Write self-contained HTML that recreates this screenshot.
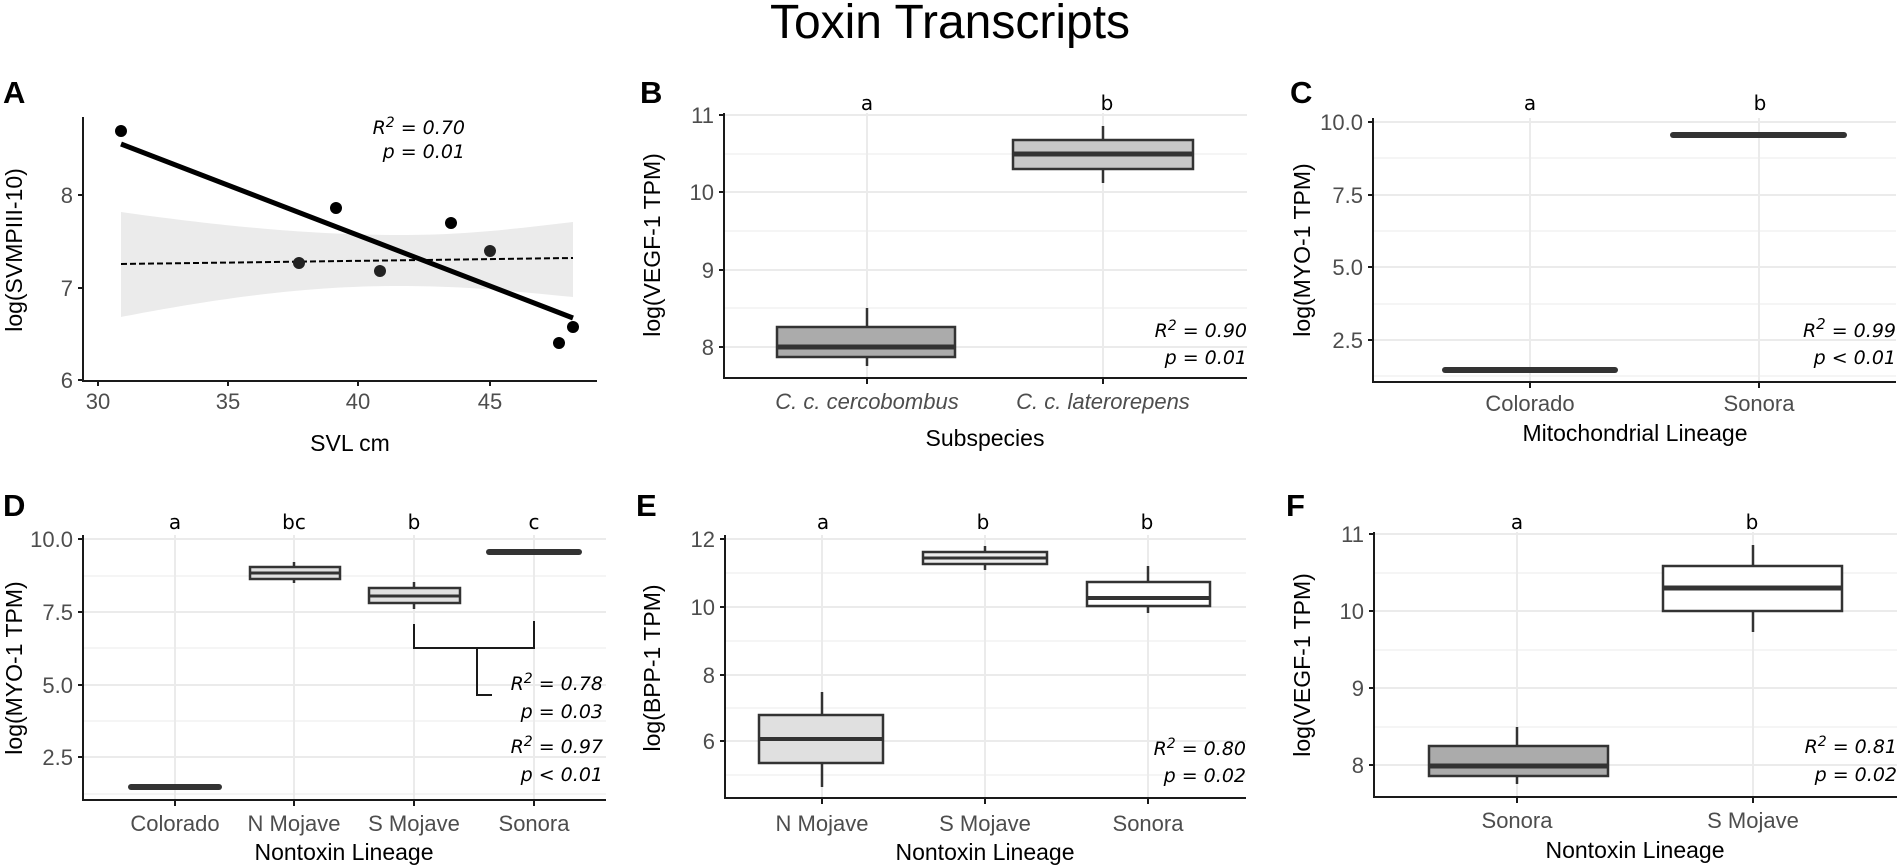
<!DOCTYPE html>
<html><head><meta charset="utf-8"><style>
body{margin:0;background:#fff}
svg{display:block}
.tk{font-family:"Liberation Sans",sans-serif;font-size:22px;fill:#4d4d4d}
.ti{font-family:"Liberation Sans",sans-serif;font-size:23px;fill:#000}
.gl{font-family:"DejaVu Sans",sans-serif;font-size:20px;fill:#000}
.st{font-family:"DejaVu Sans",sans-serif;font-style:italic;font-size:19px;fill:#000}
.pl{font-family:"Liberation Sans",sans-serif;font-weight:bold;font-size:31px;fill:#000}
.mj{stroke:#ebebeb;stroke-width:2}
.mn{stroke:#ebebeb;stroke-width:1}
.ax{stroke:#1a1a1a;stroke-width:2;fill:none}
.bx{stroke:#333;stroke-width:2.5}
</style></head><body>
<svg width="1900" height="868" viewBox="0 0 1900 868" xmlns="http://www.w3.org/2000/svg">
<text x="950" y="38" text-anchor="middle" font-family="Liberation Sans, sans-serif" font-size="48">Toxin Transcripts</text>

<!-- Panel A -->
<text class="pl" x="3" y="103">A</text>
<path d="M121,212 C250,230 330,235 400,235 C470,235 520,228 573,222 L573,297 C520,292 470,286 400,286 C330,286 250,292 121,317 Z" fill="#ebebeb"/>
<line x1="121" y1="264" x2="573" y2="258" stroke="#000" stroke-width="2" stroke-dasharray="6,3"/>
<line x1="121" y1="144" x2="573" y2="318" stroke="#000" stroke-width="5"/>
<g fill="#000"><circle cx="121" cy="131" r="6"/><circle cx="336" cy="208" r="6"/><circle cx="451" cy="223" r="6"/><circle cx="559" cy="343" r="6"/><circle cx="573" cy="327" r="6"/></g>
<g fill="#222"><circle cx="299" cy="263" r="6"/><circle cx="380" cy="271" r="6"/><circle cx="490" cy="251" r="6"/></g>
<path class="ax" d="M83,117 V381 H597"/>
<g stroke="#1a1a1a" stroke-width="2"><line x1="78" y1="195" x2="83" y2="195"/><line x1="78" y1="288" x2="83" y2="288"/><line x1="78" y1="380" x2="83" y2="380"/>
<line x1="98" y1="381" x2="98" y2="386"/><line x1="228" y1="381" x2="228" y2="386"/><line x1="358" y1="381" x2="358" y2="386"/><line x1="490" y1="381" x2="490" y2="386"/></g>
<g class="tk" text-anchor="end"><text x="73" y="203">8</text><text x="73" y="296">7</text><text x="73" y="388">6</text></g>
<g class="tk" text-anchor="middle"><text x="98" y="409">30</text><text x="228" y="409">35</text><text x="358" y="409">40</text><text x="490" y="409">45</text></g>
<text class="ti" text-anchor="middle" x="350" y="451">SVL  cm</text>
<text class="ti" text-anchor="middle" transform="translate(22,250) rotate(-90)">log(SVMPIII-10)</text>
<text class="st" x="465" y="134" text-anchor="end">R<tspan dy="-7" font-size="14">2</tspan><tspan dy="7"> = 0.70</tspan></text>
<text class="st" x="465" y="158" text-anchor="end">p = 0.01</text>

<!-- Panel B -->
<text class="pl" x="640" y="103">B</text>
<g class="mn"><line x1="724" x2="1247" y1="154" y2="154"/><line x1="724" x2="1247" y1="231" y2="231"/><line x1="724" x2="1247" y1="308" y2="308"/></g>
<g class="mj"><line x1="724" x2="1247" y1="115" y2="115"/><line x1="724" x2="1247" y1="192" y2="192"/><line x1="724" x2="1247" y1="270" y2="270"/><line x1="724" x2="1247" y1="347" y2="347"/>
<line x1="867" x2="867" y1="113" y2="378"/><line x1="1103" x2="1103" y1="113" y2="378"/></g>
<g class="bx"><line x1="867" y1="308" x2="867" y2="366"/><rect x="777" y="327" width="178" height="30" fill="#ababab"/><line x1="777" x2="955" y1="347" y2="347" stroke-width="5"/>
<line x1="1103" y1="126" x2="1103" y2="183"/><rect x="1013" y="140" width="180" height="29" fill="#c8c8c8"/><line x1="1013" x2="1193" y1="154" y2="154" stroke-width="5"/></g>
<path class="ax" d="M724,113 V378 H1247"/>
<g stroke="#1a1a1a" stroke-width="2"><line x1="719" x2="724" y1="115" y2="115"/><line x1="719" x2="724" y1="192" y2="192"/><line x1="719" x2="724" y1="270" y2="270"/><line x1="719" x2="724" y1="347" y2="347"/><line x1="867" x2="867" y1="378" y2="384"/><line x1="1103" x2="1103" y1="378" y2="384"/></g>
<g class="tk" text-anchor="end"><text x="714" y="123">11</text><text x="714" y="200">10</text><text x="714" y="278">9</text><text x="714" y="355">8</text></g>
<g class="tk" text-anchor="middle" font-style="italic"><text x="867" y="409">C. c. cercobombus</text><text x="1103" y="409">C. c. laterorepens</text></g>
<text class="ti" text-anchor="middle" x="985" y="446">Subspecies</text>
<text class="ti" text-anchor="middle" transform="translate(660,245) rotate(-90)">log(VEGF-1 TPM)</text>
<g class="gl" text-anchor="middle"><text x="867" y="110">a</text><text x="1107" y="110">b</text></g>
<text class="st" x="1247" y="337" text-anchor="end">R<tspan dy="-7" font-size="14">2</tspan><tspan dy="7"> = 0.90</tspan></text>
<text class="st" x="1247" y="364" text-anchor="end">p = 0.01</text>

<!-- Panel C -->
<text class="pl" x="1290" y="103">C</text>
<g class="mn"><line x1="1373" x2="1896" y1="158" y2="158"/><line x1="1373" x2="1896" y1="231" y2="231"/><line x1="1373" x2="1896" y1="304" y2="304"/><line x1="1373" x2="1896" y1="376" y2="376"/></g>
<g class="mj"><line x1="1373" x2="1896" y1="122" y2="122"/><line x1="1373" x2="1896" y1="195" y2="195"/><line x1="1373" x2="1896" y1="267" y2="267"/><line x1="1373" x2="1896" y1="340" y2="340"/>
<line x1="1530" x2="1530" y1="118" y2="382"/><line x1="1759" x2="1759" y1="118" y2="382"/></g>
<g stroke="#333" stroke-width="6" stroke-linecap="round"><line x1="1445" x2="1615" y1="370" y2="370"/><line x1="1673" x2="1844" y1="135" y2="135"/></g>
<path class="ax" d="M1373,118 V382 H1896"/>
<g stroke="#1a1a1a" stroke-width="2"><line x1="1368" x2="1373" y1="122" y2="122"/><line x1="1368" x2="1373" y1="195" y2="195"/><line x1="1368" x2="1373" y1="267" y2="267"/><line x1="1368" x2="1373" y1="340" y2="340"/><line x1="1530" x2="1530" y1="382" y2="388"/><line x1="1759" x2="1759" y1="382" y2="388"/></g>
<g class="tk" text-anchor="end"><text x="1363" y="130">10.0</text><text x="1363" y="203">7.5</text><text x="1363" y="275">5.0</text><text x="1363" y="348">2.5</text></g>
<g class="tk" text-anchor="middle"><text x="1530" y="411">Colorado</text><text x="1759" y="411">Sonora</text></g>
<text class="ti" text-anchor="middle" x="1635" y="441">Mitochondrial Lineage</text>
<text class="ti" text-anchor="middle" transform="translate(1310,250) rotate(-90)">log(MYO-1 TPM)</text>
<g class="gl" text-anchor="middle"><text x="1530" y="110">a</text><text x="1760" y="110">b</text></g>
<text class="st" x="1896" y="337" text-anchor="end">R<tspan dy="-8" font-size="15">2</tspan><tspan dy="8"> = 0.99</tspan></text>
<text class="st" x="1896" y="364" text-anchor="end">p &lt; 0.01</text>

<!-- Panel D -->
<text class="pl" x="3" y="516">D</text>
<g class="mn"><line x1="83" x2="606" y1="576" y2="576"/><line x1="83" x2="606" y1="648" y2="648"/><line x1="83" x2="606" y1="721" y2="721"/><line x1="83" x2="606" y1="794" y2="794"/></g>
<g class="mj"><line x1="83" x2="606" y1="539" y2="539"/><line x1="83" x2="606" y1="612" y2="612"/><line x1="83" x2="606" y1="685" y2="685"/><line x1="83" x2="606" y1="757" y2="757"/>
<line x1="175" x2="175" y1="535" y2="800"/><line x1="294" x2="294" y1="535" y2="800"/><line x1="414" x2="414" y1="535" y2="800"/><line x1="534" x2="534" y1="535" y2="800"/></g>
<g class="bx"><line x1="294" x2="294" y1="562" y2="583"/><rect x="250" y="567" width="90" height="12" fill="#e0e0e0"/><line x1="250" x2="340" y1="573" y2="573" stroke-width="3"/>
<line x1="414" x2="414" y1="582" y2="609"/><rect x="369" y="588" width="91" height="15" fill="#e0e0e0"/><line x1="369" x2="460" y1="596" y2="596" stroke-width="3"/></g>
<g stroke="#333" stroke-width="6" stroke-linecap="round"><line x1="131" x2="219" y1="787" y2="787"/><line x1="489" x2="579" y1="552" y2="552"/></g>
<path d="M414,624 V648 H534 V621 M477,648 V695 H492" fill="none" stroke="#1a1a1a" stroke-width="2"/>
<path class="ax" d="M83,535 V800 H606"/>
<g stroke="#1a1a1a" stroke-width="2"><line x1="78" x2="83" y1="539" y2="539"/><line x1="78" x2="83" y1="612" y2="612"/><line x1="78" x2="83" y1="685" y2="685"/><line x1="78" x2="83" y1="757" y2="757"/><line x1="175" x2="175" y1="800" y2="806"/><line x1="294" x2="294" y1="800" y2="806"/><line x1="414" x2="414" y1="800" y2="806"/><line x1="534" x2="534" y1="800" y2="806"/></g>
<g class="tk" text-anchor="end"><text x="73" y="547">10.0</text><text x="73" y="620">7.5</text><text x="73" y="693">5.0</text><text x="73" y="765">2.5</text></g>
<g class="tk" text-anchor="middle"><text x="175" y="831">Colorado</text><text x="294" y="831">N Mojave</text><text x="414" y="831">S Mojave</text><text x="534" y="831">Sonora</text></g>
<text class="ti" text-anchor="middle" x="344" y="860">Nontoxin Lineage</text>
<text class="ti" text-anchor="middle" transform="translate(22,668) rotate(-90)">log(MYO-1 TPM)</text>
<g class="gl" text-anchor="middle"><text x="175" y="529">a</text><text x="294" y="529">bc</text><text x="414" y="529">b</text><text x="534" y="529">c</text></g>
<g class="st" text-anchor="end"><text x="603" y="690">R<tspan dy="-7" font-size="14">2</tspan><tspan dy="7"> = 0.78</tspan></text><text x="603" y="718">p = 0.03</text>
<text x="603" y="753">R<tspan dy="-7" font-size="14">2</tspan><tspan dy="7"> = 0.97</tspan></text><text x="603" y="781">p &lt; 0.01</text></g>

<!-- Panel E -->
<text class="pl" x="636" y="516">E</text>
<g class="mn"><line x1="725" x2="1246" y1="573" y2="573"/><line x1="725" x2="1246" y1="641" y2="641"/><line x1="725" x2="1246" y1="708" y2="708"/><line x1="725" x2="1246" y1="775" y2="775"/></g>
<g class="mj"><line x1="725" x2="1246" y1="539" y2="539"/><line x1="725" x2="1246" y1="607" y2="607"/><line x1="725" x2="1246" y1="675" y2="675"/><line x1="725" x2="1246" y1="741" y2="741"/>
<line x1="822" x2="822" y1="535" y2="798"/><line x1="985" x2="985" y1="535" y2="798"/><line x1="1148" x2="1148" y1="535" y2="798"/></g>
<g class="bx"><line x1="822" x2="822" y1="692" y2="787"/><rect x="759" y="715" width="124" height="48" fill="#e0e0e0"/><line x1="759" x2="883" y1="739" y2="739" stroke-width="4"/>
<line x1="985" x2="985" y1="546" y2="570"/><rect x="923" y="552" width="124" height="12" fill="#ececec"/><line x1="923" x2="1047" y1="558" y2="558" stroke-width="3"/>
<line x1="1148" x2="1148" y1="566" y2="613"/><rect x="1087" y="582" width="123" height="24" fill="#fff"/><line x1="1087" x2="1210" y1="598" y2="598" stroke-width="4"/></g>
<path class="ax" d="M725,535 V798 H1246"/>
<g stroke="#1a1a1a" stroke-width="2"><line x1="720" x2="725" y1="539" y2="539"/><line x1="720" x2="725" y1="607" y2="607"/><line x1="720" x2="725" y1="675" y2="675"/><line x1="720" x2="725" y1="741" y2="741"/><line x1="822" x2="822" y1="798" y2="804"/><line x1="985" x2="985" y1="798" y2="804"/><line x1="1148" x2="1148" y1="798" y2="804"/></g>
<g class="tk" text-anchor="end"><text x="715" y="547">12</text><text x="715" y="615">10</text><text x="715" y="683">8</text><text x="715" y="749">6</text></g>
<g class="tk" text-anchor="middle"><text x="822" y="831">N Mojave</text><text x="985" y="831">S Mojave</text><text x="1148" y="831">Sonora</text></g>
<text class="ti" text-anchor="middle" x="985" y="860">Nontoxin Lineage</text>
<text class="ti" text-anchor="middle" transform="translate(660,668) rotate(-90)">log(BPP-1 TPM)</text>
<g class="gl" text-anchor="middle"><text x="823" y="529">a</text><text x="983" y="529">b</text><text x="1147" y="529">b</text></g>
<g class="st" text-anchor="end"><text x="1246" y="755">R<tspan dy="-7" font-size="14">2</tspan><tspan dy="7"> = 0.80</tspan></text><text x="1246" y="782">p = 0.02</text></g>

<!-- Panel F -->
<text class="pl" x="1286" y="516">F</text>
<g class="mn"><line x1="1374" x2="1897" y1="573" y2="573"/><line x1="1374" x2="1897" y1="650" y2="650"/><line x1="1374" x2="1897" y1="727" y2="727"/></g>
<g class="mj"><line x1="1374" x2="1897" y1="534" y2="534"/><line x1="1374" x2="1897" y1="611" y2="611"/><line x1="1374" x2="1897" y1="688" y2="688"/><line x1="1374" x2="1897" y1="765" y2="765"/>
<line x1="1517" x2="1517" y1="532" y2="797"/><line x1="1753" x2="1753" y1="532" y2="797"/></g>
<g class="bx"><line x1="1517" x2="1517" y1="727" y2="784"/><rect x="1429" y="746" width="179" height="30" fill="#ababab"/><line x1="1429" x2="1608" y1="766" y2="766" stroke-width="5"/>
<line x1="1753" x2="1753" y1="545" y2="632"/><rect x="1663" y="566" width="179" height="45" fill="#fff"/><line x1="1663" x2="1842" y1="588" y2="588" stroke-width="5"/></g>
<path class="ax" d="M1374,532 V797 H1897"/>
<g stroke="#1a1a1a" stroke-width="2"><line x1="1369" x2="1374" y1="534" y2="534"/><line x1="1369" x2="1374" y1="611" y2="611"/><line x1="1369" x2="1374" y1="688" y2="688"/><line x1="1369" x2="1374" y1="765" y2="765"/><line x1="1517" x2="1517" y1="797" y2="803"/><line x1="1753" x2="1753" y1="797" y2="803"/></g>
<g class="tk" text-anchor="end"><text x="1364" y="542">11</text><text x="1364" y="619">10</text><text x="1364" y="696">9</text><text x="1364" y="773">8</text></g>
<g class="tk" text-anchor="middle"><text x="1517" y="828">Sonora</text><text x="1753" y="828">S Mojave</text></g>
<text class="ti" text-anchor="middle" x="1635" y="858">Nontoxin Lineage</text>
<text class="ti" text-anchor="middle" transform="translate(1310,665) rotate(-90)">log(VEGF-1 TPM)</text>
<g class="gl" text-anchor="middle"><text x="1517" y="529">a</text><text x="1752" y="529">b</text></g>
<g class="st" text-anchor="end"><text x="1897" y="753">R<tspan dy="-7" font-size="14">2</tspan><tspan dy="7"> = 0.81</tspan></text><text x="1897" y="781">p = 0.02</text></g>
</svg>
</body></html>
